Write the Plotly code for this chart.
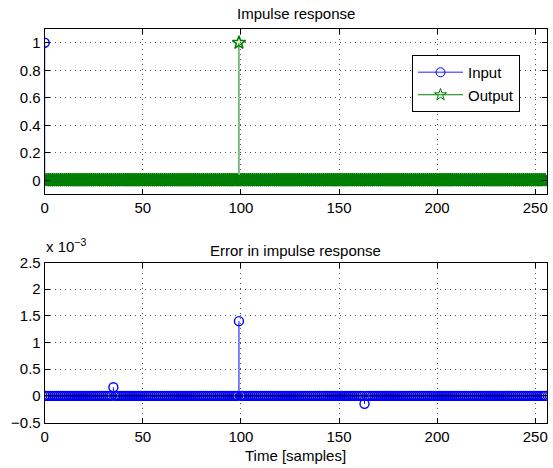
import numpy as np
import plotly.graph_objects as go

# Samples 0..255
n = list(range(256))

# Impulse at sample 0 goes in, delayed impulse comes out at sample 99
input_vals = [0.0] * 256
input_vals[0] = 1.0
output_vals = [0.0] * 256
output_vals[99] = 1.0

# Error in the impulse response (non-zero samples)
error_idx = [35, 99, 163]
error_amp = [0.16e-3, 1.40e-3, -0.15e-3]
error_vals = [0.0] * 256
for i, a in zip(error_idx, error_amp):
    error_vals[i] = a

x_ticks = [0, 50, 100, 150, 200, 250]
top_yticks = [0, 0.2, 0.4, 0.6, 0.8, 1]
top_ytext = ["0", "0.2", "0.4", "0.6", "0.8", "1"]
bot_yticks = [-0.5e-3, 0, 0.5e-3, 1e-3, 1.5e-3, 2e-3, 2.5e-3]
bot_ytext = ["\u22120.5", "0", "0.5", "1", "1.5", "2", "2.5"]

BLUE = "#0000ff"
GREEN = "#008000"
FONT = "Liberation Sans, Arial, sans-serif"
FS = 15


def stems(xs, ys):
    sx, sy = [], []
    for x, y in zip(xs, ys):
        sx += [x, x, None]
        sy += [0, y, None]
    return sx, sy


circle = dict(symbol="circle-open", size=9, color=BLUE, line=dict(width=1.4, color=BLUE))
star = dict(symbol="star-open", size=10, color=GREEN, line=dict(width=1.5, color=GREEN))

fig = go.Figure()

# --- top: impulse response ---
sx, sy = stems(n, input_vals)
fig.add_trace(go.Scatter(x=sx, y=sy, mode="lines", line=dict(color=BLUE, width=1),
                         showlegend=False, hoverinfo="skip", xaxis="x", yaxis="y"))
fig.add_trace(go.Scatter(x=n, y=input_vals, mode="markers", marker=circle,
                         showlegend=False, xaxis="x", yaxis="y"))
sx, sy = stems(n, output_vals)
fig.add_trace(go.Scatter(x=sx, y=sy, mode="lines", line=dict(color=GREEN, width=1),
                         showlegend=False, hoverinfo="skip", xaxis="x", yaxis="y"))
fig.add_trace(go.Scatter(x=n, y=output_vals, mode="markers", marker=star,
                         showlegend=False, xaxis="x", yaxis="y"))
# legend entries
fig.add_trace(go.Scatter(x=[None], y=[None], mode="lines+markers", name="Input",
                         line=dict(color="#6a6aff", width=1.5),
                         marker=dict(symbol="circle-open", size=9, color=BLUE, line=dict(width=1)),
                         xaxis="x", yaxis="y"))
fig.add_trace(go.Scatter(x=[None], y=[None], mode="lines+markers", name="Output",
                         line=dict(color=GREEN, width=1),
                         marker=dict(symbol="star-open", size=9, color=GREEN, line=dict(width=1)),
                         xaxis="x", yaxis="y"))

# --- bottom: error ---
sx, sy = stems(n, error_vals)
fig.add_trace(go.Scatter(x=sx, y=sy, mode="lines", line=dict(color=BLUE, width=1),
                         showlegend=False, hoverinfo="skip", xaxis="x2", yaxis="y2"))
fig.add_trace(go.Scatter(x=n, y=error_vals, mode="markers", marker=circle,
                         showlegend=False, xaxis="x2", yaxis="y2"))

axis_common = dict(
    showline=True, linecolor="black", linewidth=1, mirror="ticks",
    ticks="inside", ticklen=5, tickcolor="black", tickwidth=1,
    showgrid=True, gridcolor="#555555", griddash="1px,4px", gridwidth=1,
    zeroline=False, tickfont=dict(family=FONT, size=FS, color="black"),
    automargin=False,
)

xdom = [44.7 / 553, 547 / 553]
fig.update_layout(
    width=553, height=468,
    margin=dict(l=0, r=0, t=0, b=0),
    paper_bgcolor="white", plot_bgcolor="white",
    font=dict(family=FONT, size=FS, color="black"),
    xaxis=dict(domain=xdom, range=[0, 256], tickvals=x_ticks, anchor="y", **axis_common),
    yaxis=dict(domain=[1 - 194 / 468, 1 - 29 / 468], range=[-0.1, 1.1],
               tickvals=top_yticks, ticktext=top_ytext, anchor="x", **axis_common),
    xaxis2=dict(domain=xdom, range=[0, 256], tickvals=x_ticks, anchor="y2", **axis_common),
    yaxis2=dict(domain=[1 - 422.5 / 468, 1 - 262.5 / 468], range=[-0.5e-3, 2.5e-3],
                tickvals=bot_yticks, ticktext=bot_ytext, anchor="x2", **axis_common),
    legend=dict(x=412 / 553, y=1 - 55 / 468, xanchor="left", yanchor="top",
                bgcolor="white", bordercolor="black", borderwidth=1,
                font=dict(family=FONT, size=FS, color="black"),
                itemwidth=45, tracegroupgap=0),
    showlegend=True,
    shapes=[
        dict(type="line", xref="x domain", yref="y", x0=0, x1=1, y0=0, y1=0,
             line=dict(color="black", width=1), layer="below"),
        dict(type="line", xref="x2 domain", yref="y2", x0=0, x1=1, y0=0, y1=0,
             line=dict(color="black", width=1), layer="above"),
    ],
    annotations=[
        dict(text="Impulse response", xref="paper", yref="paper",
             x=(xdom[0] + xdom[1]) / 2, y=1 - 13 / 468, showarrow=False,
             font=dict(size=FS), xanchor="center", yanchor="middle"),
        dict(text="Error in impulse response", xref="paper", yref="paper",
             x=(xdom[0] + xdom[1]) / 2, y=1 - 250 / 468, showarrow=False,
             font=dict(size=FS), xanchor="center", yanchor="middle"),
        dict(text="Time [samples]", xref="paper", yref="paper",
             x=(xdom[0] + xdom[1]) / 2, y=1 - 455 / 468, showarrow=False,
             font=dict(size=FS), xanchor="center", yanchor="middle"),
        dict(text="x 10<sup>\u22123</sup>", xref="paper", yref="paper",
             x=44 / 553, y=1 - 257 / 468, showarrow=False,
             font=dict(size=FS), xanchor="left", yanchor="bottom"),
    ],
)

fig.write_html("out.html")
